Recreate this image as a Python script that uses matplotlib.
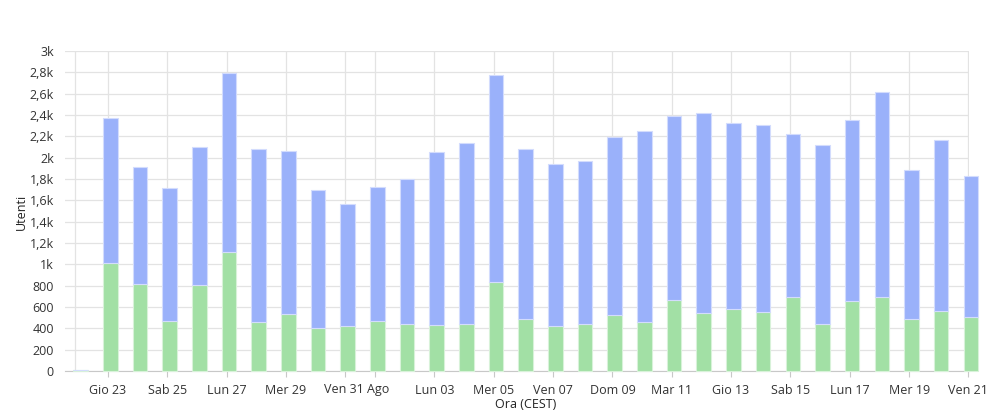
import matplotlib.pyplot as plt
import matplotlib.transforms as mtransforms
from matplotlib.ticker import FuncFormatter
import numpy as np

plt.rcParams['font.family'] = ['Open Sans', 'DejaVu Sans']

# one bar per day, 22 Aug -> 21 Sep
days = list(range(31))
nuovi = [5, 1012, 818, 469, 806, 1115, 456, 537, 403, 422,
         469, 441, 431, 441, 837, 487, 422, 444, 525, 459,
         666, 544, 578, 556, 694, 441, 659, 697, 490, 562, 506]
totali = [5, 2372, 1909, 1712, 2097, 2797, 2084, 2062, 1697, 1566,
          1725, 1800, 2056, 2137, 2775, 2084, 1940, 1972, 2197, 2253,
          2394, 2419, 2322, 2306, 2222, 2119, 2353, 2616, 1881, 2169, 1825]
ritorno = [t - n for t, n in zip(totali, nuovi)]

tick_days = [1, 3, 5, 7, 9, 10, 12, 14, 16, 18, 20, 22, 24, 26, 28, 30]
tick_labels = ['Gio 23', 'Sab 25', 'Lun 27', 'Mer 29', 'Ven 31 Ago', '',
               'Lun 03', 'Mer 05', 'Ven 07', 'Dom 09', 'Mar 11', 'Gio 13',
               'Sab 15', 'Lun 17', 'Mer 19', 'Ven 21']

fig = plt.figure(figsize=(10.07, 4.17), dpi=100)
ax = fig.add_axes([65 / 1007, 46 / 417, 904 / 1007, 320 / 417])

x = np.array(days) - 1 + 0.08
green = '#a2e0a5'
blue = '#9ab1fa'
ax.bar(x, nuovi, width=0.49, color=green, edgecolor='#d8f2d9', linewidth=0.8,
       clip_on=False, zorder=3)
ax.bar(x, ritorno, width=0.49, bottom=nuovi, color=blue, edgecolor='#d3dcfd',
       linewidth=0.8, clip_on=False, zorder=3)

ax.set_xlim(-1.45, 29.02)
ax.set_ylim(0, 3000)
ax.set_yticks(np.arange(0, 3001, 200))


def fmt(v, pos):
    if v < 1000:
        return '%d' % v
    s = ('%.1f' % (v / 1000)).rstrip('0').rstrip('.')
    return s.replace('.', ',') + 'k'


ax.yaxis.set_major_formatter(FuncFormatter(fmt))
ax.set_xticks([d - 1 for d in tick_days])
ax.set_xticklabels(tick_labels)

ax.grid(True, color='#e3e3e3', linewidth=0.9, zorder=0)
ax.axvline(-1.11, color='#e3e3e3', linewidth=0.9, zorder=0)
ax.set_axisbelow(True)
for s in ['top', 'right', 'left']:
    ax.spines[s].set_visible(False)
ax.spines['bottom'].set_color('#c8c8c8')
ax.tick_params(axis='y', length=0, pad=8, labelsize=9, labelcolor='#333333')
ax.tick_params(axis='x', length=4, color='#c8c8c8', pad=5, labelsize=9,
               labelcolor='#333333')

# shift the month label to the right like the original
lab = ax.get_xticklabels()[4]
lab.set_transform(lab.get_transform() +
                  mtransforms.ScaledTranslation(11 / 100, 0, fig.dpi_scale_trans))

fig.text(21 / 1007, 1 - 212 / 417, 'Utenti', rotation=90, ha='center',
         va='center', fontsize=9, color='#222222')
fig.text(526 / 1007, 1 - 404 / 417, 'Ora (CEST)', ha='center', va='center',
         fontsize=9, color='#222222')

fig.savefig('out.png', dpi=100)
